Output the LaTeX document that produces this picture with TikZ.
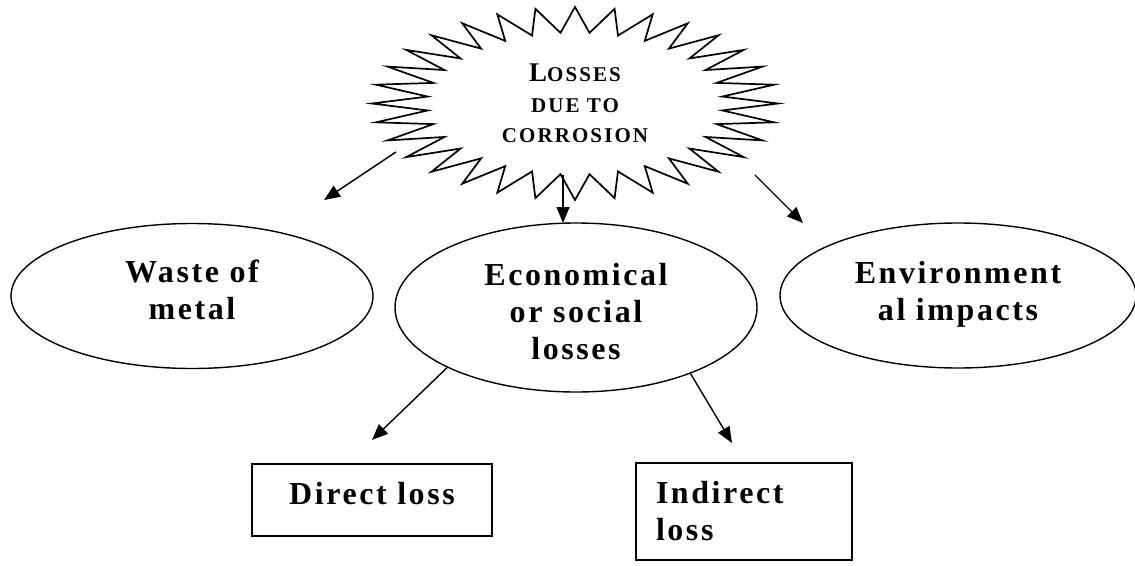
\documentclass[tikz,border=0pt]{standalone}
\usepackage{fontspec}
\setmainfont{Liberation Serif}
\newfontfamily\boxfont{Liberation Serif}[LetterSpace=8]
\newfontfamily\burstfont{Liberation Serif}[LetterSpace=10]
\usetikzlibrary{shapes.geometric,arrows.meta}

\tikzset{
  bubble/.style={ellipse, draw, line width=1.4pt, inner sep=0pt, align=center,
    font={\boxfont\bfseries\fontsize{32}{37}\selectfont}},
  card/.style={rectangle, draw, line width=1.6pt, inner sep=0pt,
    font={\boxfont\bfseries\fontsize{32}{37}\selectfont}},
  spikes/.style={draw, line width=1.7pt, line join=miter},
  link/.style={line width=1.4pt, -{Triangle[length=16pt,width=13pt]}},
}
% invisible struts that lift or lower a text block inside its frame
\newcommand{\dropby}[1]{\rule[-#1]{0pt}{0pt}}
\newcommand{\tallby}[1]{\rule{0pt}{#1}}

\begin{document}
\begin{tikzpicture}[x=1pt, y=-1pt]
  \useasboundingbox (0,0) rectangle (1135,565);

  % central starburst: 32 spikes on an elliptical outline
  \draw[spikes] (575,7)
    \foreach \k in {0,...,31}{
      -- ({575+148*cos(95.625+\k*11.25)}, {103.5-71*sin(95.625+\k*11.25)})
      -- ({575+203*cos(90+(\k+1)*11.25)}, {103.5-96.5*sin(90+(\k+1)*11.25)})
    } -- cycle;
  \node[font={\burstfont\bfseries\fontsize{21}{30.5}\selectfont}, align=center, inner sep=0pt]
    (burst) at (575,103.5)
    {{\fontsize{27}{30.5}\selectfont L}OSSES\\DUE TO\\CORROSION};

  % consequences
  \node[bubble, minimum width=362pt, minimum height=145pt] (waste) at (192,296)
    {Waste of\\metal\dropby{13pt}};
  \node[bubble, minimum width=362pt, minimum height=169pt] (econ) at (576,307.5)
    {\tallby{30pt}Economical\\or social\\losses};
  \node[bubble, minimum width=356pt, minimum height=145pt] (env) at (958,295.5)
    {Environment\\al impacts\dropby{10pt}};

  % kinds of economical loss
  \node[card, minimum width=240pt, minimum height=72pt] (direct) at (372,500)
    {Direct loss\dropby{14pt}};
  \node[card, minimum width=216pt, minimum height=97pt, text width=176pt,
        inner xsep=20pt, align=left] (indirect) at (744,511.5) {Indirect\\loss};

  % arrow ends
  \coordinate (burstSW) at (396,152);
  \coordinate (burstS)  at (563,175);
  \coordinate (burstSE) at (755,175);
  \coordinate (tipW) at (324,200);
  \coordinate (tipS) at (563,223);
  \coordinate (tipE) at (803,223);
  \coordinate (tipDirect)   at (372,440);
  \coordinate (tipIndirect) at (732,443);

  \draw[link] (burstSW) -- (tipW);
  \draw[link] (burstS)  -- (tipS);
  \draw[link] (burstSE) -- (tipE);
  \draw[link] (econ.205) -- (tipDirect);
  \draw[link] (econ.330) -- (tipIndirect);
\end{tikzpicture}
\end{document}
